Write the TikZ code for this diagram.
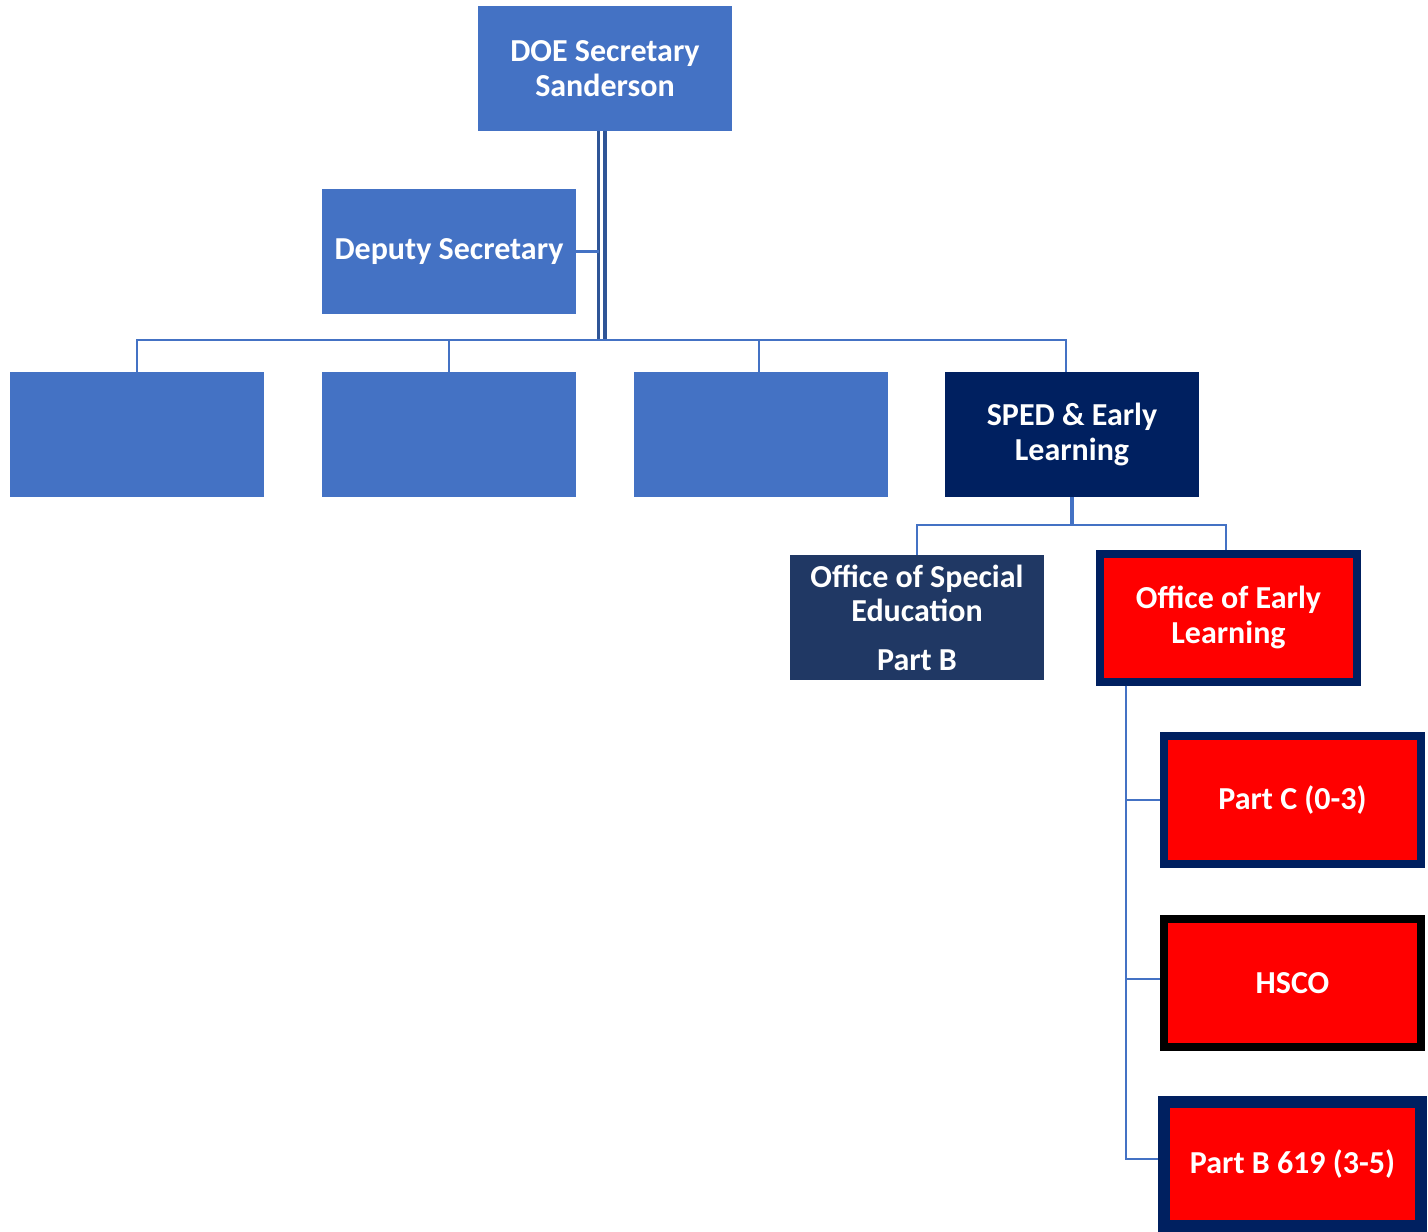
\documentclass[tikz,border=0pt]{standalone}
\usepackage{fontspec}
\setmainfont{Carlito}
\definecolor{boxblue}{HTML}{4472C4}
\definecolor{navy}{HTML}{002060}
\definecolor{slate}{HTML}{203864}
\definecolor{redbox}{HTML}{FF0000}
\definecolor{connc}{HTML}{4472C4}
\definecolor{darkconn}{HTML}{2F5597}
\begin{document}
\begin{tikzpicture}[x=1pt,y=-1pt,
  base/.style={rectangle,inner sep=0pt,align=center,text=white,
    font=\bfseries\fontsize{32}{34.5}\selectfont},
  bluebox/.style={base,fill=boxblue,minimum width=254pt,minimum height=125pt},
  spedbox/.style={base,fill=navy,minimum width=254pt,minimum height=125pt},
  osebox/.style={base,fill=slate,minimum width=254pt,minimum height=125pt},
  redb/.style={base,fill=redbox,draw=navy,line width=8pt,minimum width=257pt,minimum height=128pt},
  conn/.style={draw=connc,line width=2.5pt},
  dconn/.style={draw=darkconn},
]
\useasboundingbox (0,0) rectangle (1428,1232);
% nodes
\node[bluebox] (doe) at (605,68.5) {DOE Secretary\\Sanderson};
\node[bluebox] (dep) at (449,251.5) {Deputy Secretary};
\node[bluebox] (b1) at (137,434.5) {};
\node[bluebox] (b2) at (449,434.5) {};
\node[bluebox] (b3) at (761,434.5) {};
\node[spedbox] (sped) at (1072,434.5) {SPED \& Early\\Learning};
\node[osebox] (ose) at (917,617.5) {Office of Special\\Education\\[14pt]Part B};
\node[redb] (oel) at (1228.5,617.5) {Office of Early\\Learning};
\node[redb] (pc) at (1292.5,800) {Part C (0-3)};
\node[redb,draw=black] (hs) at (1292.5,983) {HSCO};
\node[redb,line width=12pt,minimum width=257pt,minimum height=124pt] (pb) at (1292.5,1164) {Part B 619 (3-5)};
% coordinates
\coordinate (bus) at (0,340);
\coordinate (sbus) at (0,525);
\coordinate (vl) at ([xshift=30pt]oel.south west);
% top double line
\draw[dconn,line width=2.5pt] ([xshift=-6.5pt]doe.south) -- ([xshift=-6.5pt]doe.south |- bus);
\draw[dconn,line width=4pt] ([xshift=-0.5pt]doe.south) -- ([xshift=-0.5pt]doe.south |- bus);
% deputy
\draw[conn] (dep.east) -- ([xshift=-6.5pt]dep.east -| doe.south);
% bus to row
\draw[conn,line join=miter] (b1.north) -- (b1.north |- bus) -- ([xshift=-6pt]sped.north |- bus) -- ([xshift=-6pt]sped.north);
\draw[conn] (b2.north) -- (b2.north |- bus);
\draw[conn] ([xshift=-2pt]b3.north) -- ([xshift=-2pt]b3.north |- bus);
% sped to offices
\draw[conn,line width=3.5pt] (sped.south) -- (sped.south |- sbus);
\draw[conn,line join=miter] (ose.north) -- (ose.north |- sbus) -- ([xshift=-2.5pt]oel.north |- sbus) -- ([xshift=-2.5pt]oel.north);
% early learning subtree
\draw[conn] (vl) |- (pc.west);
\draw[conn] (vl) |- ([yshift=4pt]hs.west);
\draw[conn] (vl) |- ([yshift=5pt]pb.west);
\end{tikzpicture}
\end{document}
